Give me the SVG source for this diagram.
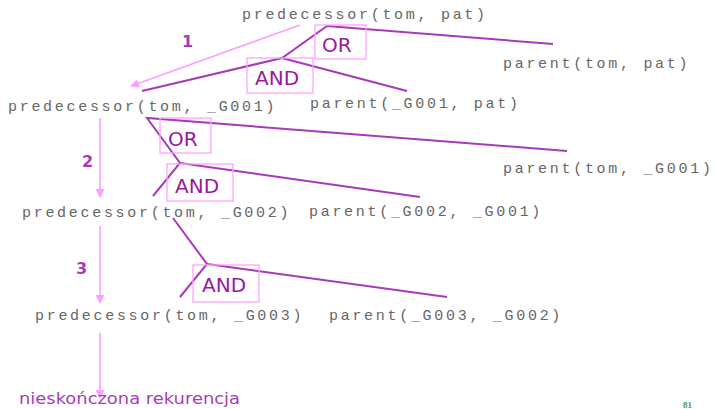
<svg xmlns="http://www.w3.org/2000/svg" width="715" height="409" viewBox="0 0 715 409">
<defs>
<style>
.t{font-family:"Liberation Mono","Courier New",monospace;font-size:15px;letter-spacing:2.7px;fill:#666}
.op{font-family:"DejaVu Sans",Verdana,sans-serif;font-size:20px;fill:#9a189f}
.num{font-family:"DejaVu Sans",Verdana,sans-serif;font-size:16px;font-weight:bold;fill:#a83cb8}
.box{fill:none;stroke:#ffa0ff;stroke-width:1.3}
.ln{fill:none;stroke:#a63ab8;stroke-width:2}
.ar{fill:none;stroke:#ff9cff;stroke-width:1.6;marker-end:url(#ah)}
</style>
<marker id="ah" viewBox="0 0 10 10" refX="9" refY="5" markerWidth="5.5" markerHeight="5.5" orient="auto" markerUnits="strokeWidth">
<path d="M0,0 L10,5 L0,10 z" fill="#ff9cff"/>
</marker>
</defs>
<rect width="715" height="409" fill="#fff"/>
<g id="connectors">
<polyline class="ln" points="553,44 327,26 282,58 142,91"/>
<line class="ln" x1="282" y1="58" x2="407" y2="91"/>
<polyline class="ln" points="567,151 147,118 180,163 153,196"/>
<line class="ln" x1="180" y1="163" x2="420" y2="197"/>
<polyline class="ln" points="173,218 207,264 180,297"/>
<line class="ln" x1="207" y1="264" x2="447" y2="297"/>
<line class="ar" x1="300" y1="25" x2="131" y2="86"/>
<line class="ar" x1="100" y1="118" x2="100" y2="197"/>
<line class="ar" x1="100" y1="226" x2="100" y2="303"/>
<line class="ar" x1="100" y1="333" x2="100" y2="398"/>
</g>
<g id="n-pred-pat"><text class="t" x="242" y="19">predecessor(tom, pat)</text></g>
<g id="n-parent-tom-pat"><text class="t" x="503" y="68">parent(tom, pat)</text></g>
<g id="n-pred-g001"><text class="t" x="8" y="111">predecessor(tom, _G001)</text></g>
<g id="n-parent-g001-pat"><text class="t" x="310" y="108">parent(_G001, pat)</text></g>
<g id="n-parent-tom-g001"><text class="t" x="503" y="173">parent(tom, _G001)</text></g>
<g id="n-pred-g002"><text class="t" x="22" y="217">predecessor(tom, _G002)</text></g>
<g id="n-parent-g002-g001"><text class="t" x="309" y="216">parent(_G002, _G001)</text></g>
<g id="n-pred-g003"><text class="t" x="35" y="320">predecessor(tom, _G003)</text></g>
<g id="n-parent-g003-g002"><text class="t" x="329" y="320">parent(_G003, _G002)</text></g>
<g id="or1"><rect class="box" x="315" y="25" width="51" height="34"/><text class="op" x="322" y="52">OR</text></g>
<g id="and1"><rect class="box" x="247" y="58" width="66" height="35"/><text class="op" x="255" y="85">AND</text></g>
<g id="or2"><rect class="box" x="160" y="118" width="51" height="35"/><text class="op" x="168" y="146">OR</text></g>
<g id="and2"><rect class="box" x="167" y="164" width="66" height="37"/><text class="op" x="175" y="193">AND</text></g>
<g id="and3"><rect class="box" x="193" y="265" width="66" height="37"/><text class="op" x="202" y="292">AND</text></g>
<g id="labels">
<text class="num" x="182" y="47">1</text>
<text class="num" x="82" y="167">2</text>
<text class="num" x="76" y="274">3</text>
<text x="19" y="404" style="font-family:'DejaVu Sans',Verdana,sans-serif;font-size:16.5px;fill:#a83cb8" textLength="221" lengthAdjust="spacingAndGlyphs">nieskończona rekurencja</text>
<text x="683" y="408" style="font-family:'Liberation Serif',serif;font-size:9px;font-weight:bold;fill:#4a9a4a">81</text>
</g>
</svg>
